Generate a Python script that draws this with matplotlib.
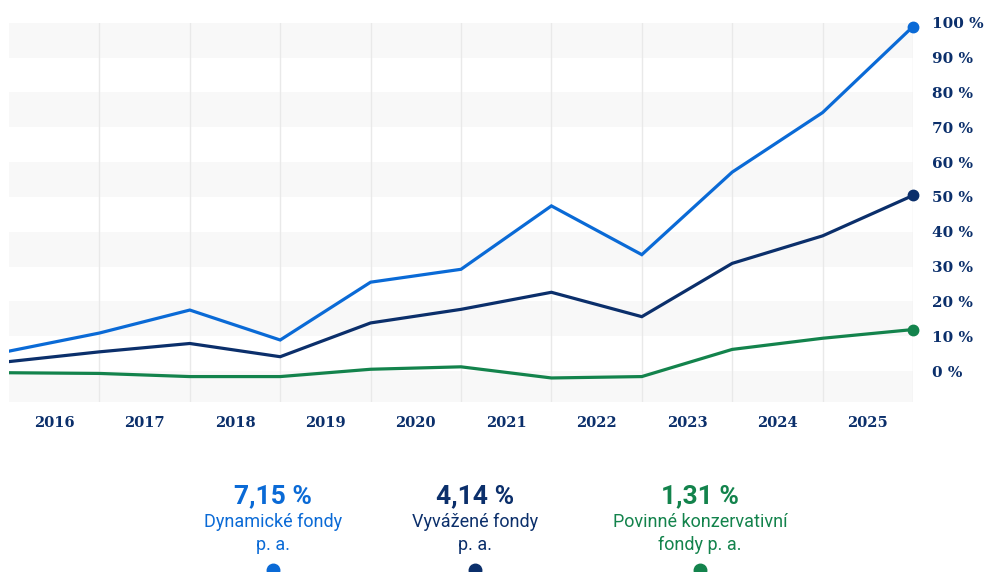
import matplotlib
matplotlib.use("Agg")
import matplotlib.pyplot as plt
from matplotlib.lines import Line2D

# hodnoty kumulativniho zhodnoceni (%) na konci kazdeho roku
body = list(range(11))
roky = ["2016", "2017", "2018", "2019", "2020", "2021", "2022", "2023", "2024", "2025"]
dynamicke = [5.7, 10.9, 17.5, 8.9, 25.5, 29.2, 47.4, 33.4, 57.1, 74.2, 98.9]
vyvazene = [2.7, 5.5, 7.9, 4.1, 13.8, 17.7, 22.6, 15.6, 30.9, 38.8, 50.4]
konzervativni = [-0.5, -0.7, -1.6, -1.6, 0.5, 1.2, -2.0, -1.6, 6.2, 9.4, 11.9]
y_ticky = list(range(0, 101, 10))

souhrn_hodnoty = ["7,15 %", "4,14 %", "1,31 %"]
souhrn_popisky = [["Dynamické fondy", "p. a."], ["Vyvážené fondy", "p. a."],
                  ["Povinné konzervativní", "fondy p. a."]]

modra = "#0a6ad6"
tmava = "#0b2f6b"
zelena = "#13834c"
barvy = [modra, tmava, zelena]

W, H = 985, 572
fig = plt.figure(figsize=(W / 100, H / 100), dpi=100)
ax = fig.add_axes([9 / W, 1 - 402 / H, (913 - 9) / W, (402 - 22.7) / H])

# sede pruhy
for y0 in range(-10, 100, 20):
    ax.axhspan(y0, y0 + 10, color="#f8f8f8", lw=0, zorder=0)
for x in body[1:]:
    ax.axvline(x, color="#e9e9e9", lw=1, zorder=1)

for data, barva in zip([dynamicke, vyvazene, konzervativni], barvy):
    ax.plot(body, data, color=barva, lw=2.3, zorder=3, solid_joinstyle="miter")
    ax.plot(body[-1], data[-1], "o", color=barva, ms=7.5, zorder=4, clip_on=False)

ax.set_xlim(0, 10)
ax.set_ylim(-8.9, 100)
for s in ax.spines.values():
    s.set_visible(False)

ax.yaxis.tick_right()
ax.set_yticks(y_ticky, [f"{v} %" for v in y_ticky])
ax.set_xticks([b + 0.5 for b in body[:-1]], roky)
ax.tick_params(length=0, colors=tmava)
ax.tick_params(axis="y", pad=14)
ax.tick_params(axis="x", pad=10)
for lab in ax.get_yticklabels():
    lab.set_fontfamily("DejaVu Serif")
    lab.set_fontweight("bold")
    lab.set_fontsize(11)
for lab in ax.get_xticklabels():
    lab.set_fontfamily("DejaVu Serif")
    lab.set_fontweight("bold")
    lab.set_fontsize(10.5)

# souhrn pod grafem
stredy = [273, 475, 700]
for cx, hodnota, popis, barva in zip(stredy, souhrn_hodnoty, souhrn_popisky, barvy):
    fig.text(cx / W, 1 - 496 / H, hodnota, ha="center", va="center", color=barva,
             fontsize=19, fontweight="bold", family="Roboto")
    for i, radek in enumerate(popis):
        fig.text(cx / W, 1 - (522 + 23 * i) / H, radek, ha="center", va="center",
                 color=barva, fontsize=13, family="Roboto")
    fig.add_artist(Line2D([cx / W], [1 - 570 / H], marker="o", ms=9, color=barva,
                          transform=fig.transFigure))

fig.savefig("out.png", dpi=100)
